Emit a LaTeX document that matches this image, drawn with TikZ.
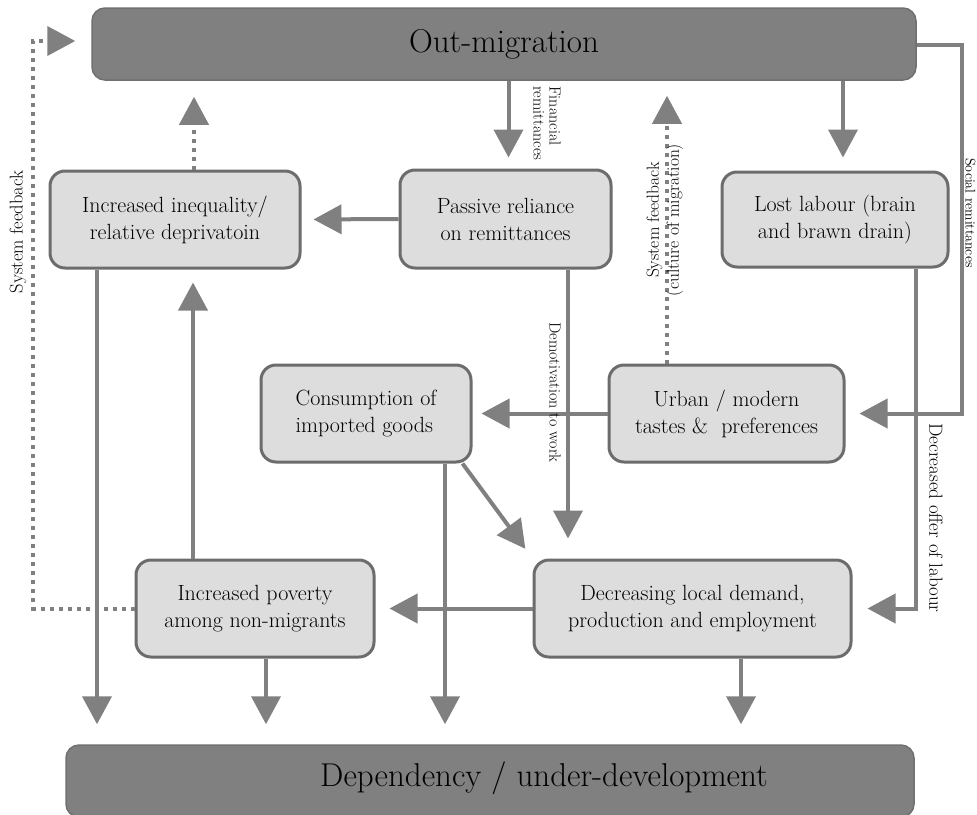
\documentclass[tikz,border=0pt]{standalone}
\usepackage{fontspec}
\usetikzlibrary{arrows.meta,calc}
\definecolor{boxfill}{RGB}{221,221,221}
\definecolor{boxline}{RGB}{108,108,108}
\definecolor{arrcol}{RGB}{128,128,128}
\definecolor{darkfill}{RGB}{128,128,128}
\definecolor{darkline}{RGB}{112,112,112}
\newcommand{\boxfont}{\fontsize{22}{27}\selectfont}
\begin{document}
\begin{tikzpicture}[x=1pt,y=-1pt,
  box/.style={draw=boxline, fill=boxfill, line width=3pt, rounded corners=15pt, inner sep=0pt, align=center, font=\boxfont},
  bigbox/.style={draw=darkline, fill=darkfill, line width=1.5pt, rounded corners=13pt, inner sep=0pt},
  arr/.style={draw=arrcol, line width=4pt, -{Triangle[width=29pt,length=28pt]}},
  dotarr/.style={arr, dash pattern=on 4pt off 5pt},
  lbl/.style={text=black, inner sep=0pt}
]
\useasboundingbox[fill=white] (0,0) rectangle (977,814);

% big boxes
\node[bigbox, minimum width=824pt, minimum height=72pt, font=\fontsize{33}{36}\selectfont] (outm) at (504,44) {Out-migration};
\node[bigbox, minimum width=848pt, minimum height=72pt] (dep) at (490,781) {};
\node[lbl, font=\fontsize{33}{36}\selectfont] (deptext) at (544,778) {Dependency / under-development};

% boxes
\node[box, minimum width=250pt, minimum height=97pt] (ineq) at (175,219.5) {Increased inequality/\\relative deprivatoin};
\node[box, minimum width=211pt, minimum height=98pt] (passive) at (505.5,219) {Passive reliance\\on remittances};
\node[box, minimum width=226pt, minimum height=95pt] (lost) at (835,219.5) {Lost labour (brain\\and brawn drain)};
\node[box, minimum width=210pt, minimum height=97pt, align=left] (cons) at (366,413.5) {Consumption of\\imported goods};
\node[box, minimum width=235pt, minimum height=97pt] (urban) at (726.5,413.5) {Urban / modern\\tastes \&\ \ preferences};
\node[box, minimum width=238pt, minimum height=97pt] (poverty) at (255,608.5) {Increased poverty\\among non-migrants};
\node[box, minimum width=317pt, minimum height=97pt] (dec) at (692.5,608.5) {Decreasing local demand,\\production and employment};

% coordinates
\coordinate (fbcorner) at (33,41);
\coordinate (socR) at (962,45);

% connectors
\draw[arr, shorten >=11pt] ([xshift=3pt]passive.north |- outm.south) -- ([xshift=3pt]passive.north);
\draw[arr, shorten >=13pt] ([xshift=8pt]lost.north |- outm.south) -- ([xshift=8pt]lost.north);
\draw[arr, shorten >=12pt] (passive.west) -- (ineq.east);
\draw[dotarr, shorten >=16pt] ([xshift=19pt]ineq.north) -- ([xshift=19pt]ineq.north |- outm.south);
\draw[arr, shorten >=20pt] ([xshift=-78pt]ineq.south) -- ([xshift=-78pt]ineq.south |- dep.north);
\draw[arr, shorten >=13pt] ([xshift=-62pt]poverty.north) -- ([xshift=-62pt]poverty.north |- ineq.south);
\draw[arr, shorten >=20pt] ([xshift=11pt]poverty.south) -- ([xshift=11pt]poverty.south |- dep.north);
\draw[dotarr, shorten >=16pt] (poverty.west) -| (fbcorner) -- (outm.west |- fbcorner);
\draw[arr, shorten >=20pt] ([xshift=79pt]cons.south) -- ([xshift=79pt]cons.south |- dep.north);
\draw[arr, shorten >=12pt] ([xshift=-10pt]cons.south east) -- (dec.north west);
\draw[arr, shorten >=9pt] (urban.west) -- (cons.east);
\draw[arr, shorten >=14pt] (outm.east |- socR) -- (socR) |- (urban.east);
\draw[arr, shorten >=20pt] ([xshift=62.5pt]passive.south) -- ([xshift=62.5pt]passive.south |- dec.north);
\draw[dotarr, shorten >=15pt] ([xshift=-59.5pt]urban.north) -- ([xshift=-59.5pt]urban.north |- outm.south);
\draw[arr, shorten >=15pt] ([xshift=81pt]lost.south) |- (dec.east);
\draw[arr, shorten >=14pt] (dec.west) -- (poverty.east);
\draw[arr, shorten >=20pt] ([xshift=48.5pt]dec.south) -- ([xshift=48.5pt]dec.south |- dep.north);

% labels
\node[lbl, rotate=-90, anchor=west, align=left, font=\fontsize{16}{16}\selectfont] (finlbl) at (547,86) {Financial\\remittances};
\node[lbl, rotate=-90, anchor=west, font=\fontsize{16}{17}\selectfont] (demlbl) at (555,322) {Demotivation to work};
\node[lbl, rotate=-90, anchor=west, font=\fontsize{14}{16}\selectfont] (soclbl) at (970.5,158) {Social remittances};
\node[lbl, rotate=-90, anchor=west, font=\fontsize{19}{21}\selectfont] (offlbl) at (936,423) {Decreased offer of labour};
\node[lbl, rotate=90, align=center, font=\fontsize{17.5}{20}\selectfont] (culture) at (665,220) {System feedback\\(culture of migration)};
\node[lbl, rotate=90, font=\fontsize{18.5}{20}\selectfont] (sfleft) at (18,232) {System feedback};
\end{tikzpicture}
\end{document}
